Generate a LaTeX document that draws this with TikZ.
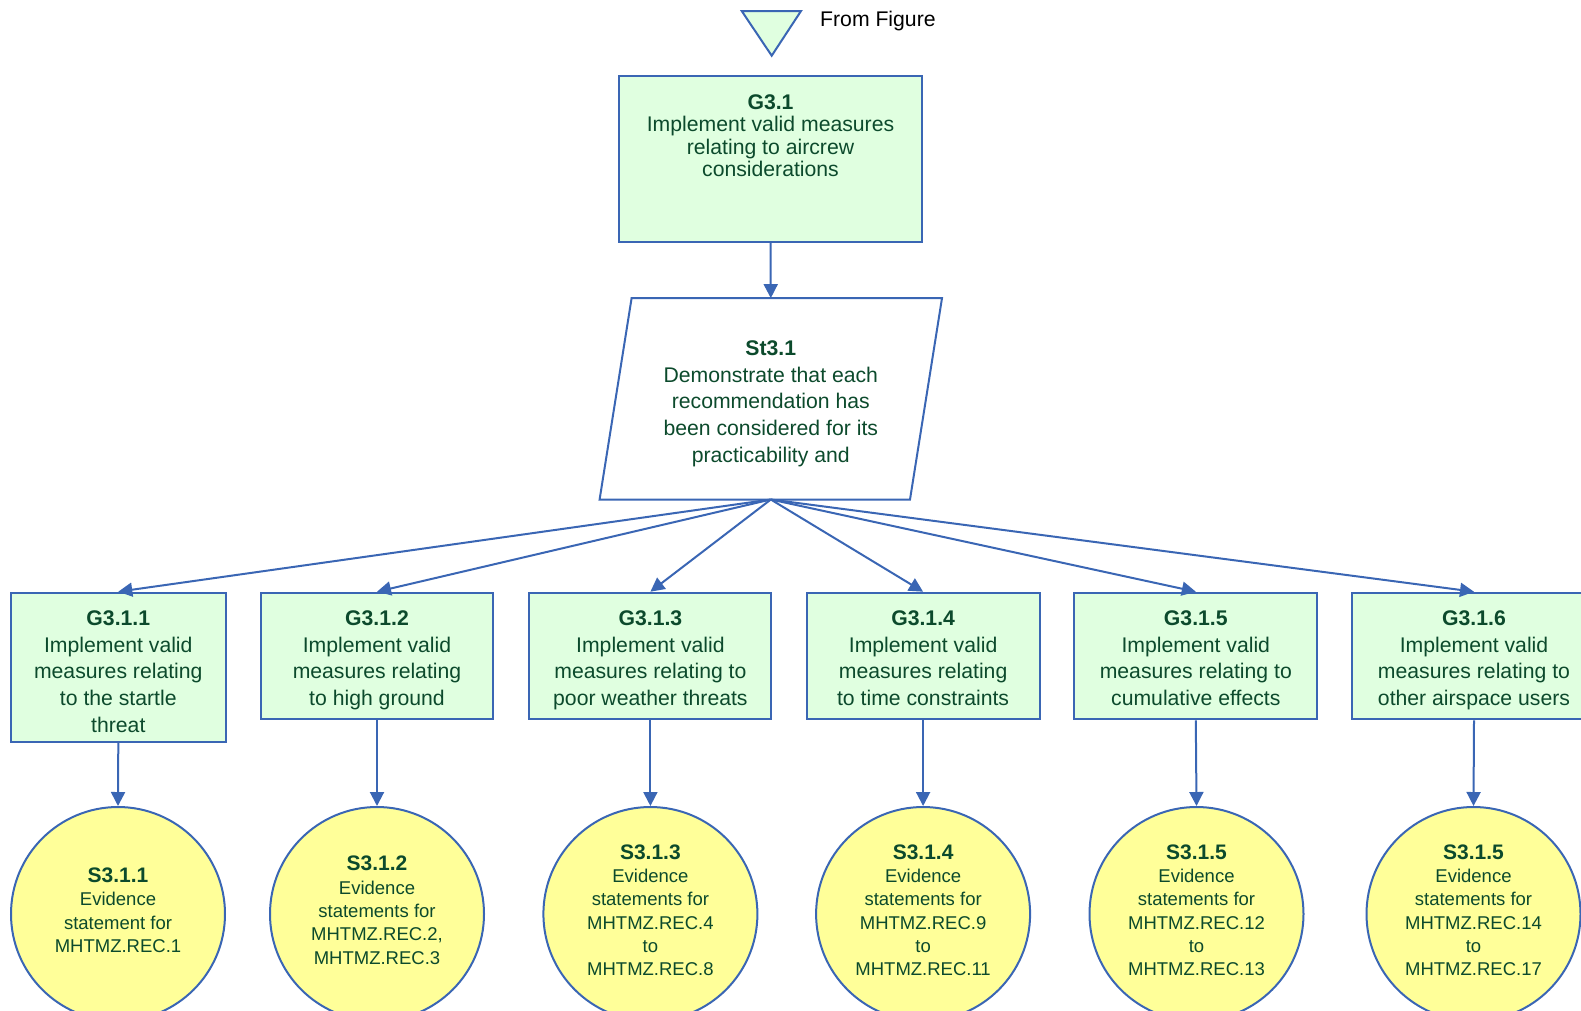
\documentclass[tikz,border=0pt]{standalone}
\usepackage{fontspec}
\setmainfont{Liberation Sans}
\usetikzlibrary{arrows.meta,calc}
\definecolor{gsnblue}{HTML}{3A66B4}
\definecolor{goalfill}{HTML}{E0FFE0}
\definecolor{evidfill}{HTML}{FFFF99}
\definecolor{gsntext}{HTML}{0C4A2C}
\newcommand\hd[1]{\textbf{#1}}
\newcommand\chd[1]{{\fontsize{21}{23.3}\selectfont\bfseries #1}}
\begin{document}
\begin{tikzpicture}[x=1pt,y=-1pt,
  goalbox/.style={draw=gsnblue, fill=goalfill, line width=2pt, inner sep=0pt},
  boxtext/.style={text=gsntext, align=center, inner sep=0pt, anchor=north,
    font=\fontsize{21.2}{26.6}\selectfont},
  evid/.style={circle, draw=gsnblue, fill=evidfill, line width=2pt,
    minimum size=214pt, inner sep=0pt, text=gsntext, align=center, text depth=7.5pt,
    font=\fontsize{18.5}{23.3}\selectfont},
  link/.style={draw=gsnblue, line width=2pt, -{Triangle[length=14pt,width=14pt]}}]
\useasboundingbox (0,0) rectangle (1581,1010);

% off-page connector
\draw[draw=gsnblue, fill=goalfill, line width=2pt] (741.7,11) -- (801,11) -- (771.7,55.7) -- cycle;
\node[anchor=base west, inner sep=0pt, font=\fontsize{21.2}{26.6}\selectfont] (from) at (820,26) {From Figure};

% top-level goal
\node[goalbox, minimum width=303pt, minimum height=166pt] (g31) at (770.5,159) {};
\node[boxtext, font=\fontsize{21.2}{22.6}\selectfont] (g31t) at ($(g31.north)+(0,19)$)
  {\hd{G3.1}\\Implement valid measures\\relating to aircrew\\considerations};

% strategy (parallelogram)
\node[minimum width=310pt, minimum height=201pt, inner sep=0pt] (st) at (770.8,398.8) {};
\draw[gsnblue, line width=2pt] ($(st.north west)+(16,0)$) -- ($(st.north east)+(16,0)$)
  -- ($(st.south east)+(-16,0)$) -- ($(st.south west)+(-16,0)$) -- cycle;
\node[boxtext] (stt) at (770.8,340.7)
  {\hd{St3.1}\\Demonstrate that each\\recommendation has\\been considered for its\\practicability and};

% sub-goals
\node[goalbox, minimum width=214.7pt, minimum height=149.3pt] (g1) at (118.3,667.3) {};
\node[goalbox, minimum width=232.6pt, minimum height=126.6pt] (g2) at (377,656) {};
\node[goalbox, minimum width=242pt, minimum height=126.6pt] (g3) at (650.4,656) {};
\node[goalbox, minimum width=233pt, minimum height=126.6pt] (g4) at (923.1,656) {};
\node[goalbox, minimum width=243pt, minimum height=126.6pt] (g5) at (1195.8,656) {};
\node[goalbox, minimum width=243.5pt, minimum height=126.6pt] (g6) at (1474,656) {};

\node[boxtext] (g1t) at ($(g1.north)+(0,19)$) {\hd{G3.1.1}\\Implement valid\\measures relating\\to the startle\\threat};
\node[boxtext] (g2t) at ($(g2.north)+(0,19)$) {\hd{G3.1.2}\\Implement valid\\measures relating\\to high ground};
\node[boxtext] (g3t) at ($(g3.north)+(0,19)$) {\hd{G3.1.3}\\Implement valid\\measures relating to\\poor weather threats};
\node[boxtext] (g4t) at ($(g4.north)+(0,19)$) {\hd{G3.1.4}\\Implement valid\\measures relating\\to time constraints};
\node[boxtext] (g5t) at ($(g5.north)+(0,19)$) {\hd{G3.1.5}\\Implement valid\\measures relating to\\cumulative effects};
\node[boxtext] (g6t) at ($(g6.north)+(0,19)$) {\hd{G3.1.6}\\Implement valid\\measures relating to\\other airspace users};

% evidence solutions
\node[evid] (s1) at (118,914) {\chd{S3.1.1}\\Evidence\\statement for\\MHTMZ.REC.1};
\node[evid] (s2) at (377,914) {\chd{S3.1.2}\\Evidence\\statements for\\MHTMZ.REC.2,\\MHTMZ.REC.3};
\node[evid] (s3) at (650.4,914) {\chd{S3.1.3}\\Evidence\\statements for\\MHTMZ.REC.4\\to\\MHTMZ.REC.8};
\node[evid] (s4) at (923.1,914) {\chd{S3.1.4}\\Evidence\\statements for\\MHTMZ.REC.9\\to\\MHTMZ.REC.11};
\node[evid] (s5) at (1196.5,914) {\chd{S3.1.5}\\Evidence\\statements for\\MHTMZ.REC.12\\to\\MHTMZ.REC.13};
\node[evid] (s6) at (1473.5,914) {\chd{S3.1.5}\\Evidence\\statements for\\MHTMZ.REC.14\\to\\MHTMZ.REC.17};

% connectors
\draw[link] (g31.south) -- (st.north);
\foreach \i in {1,...,6} {
  \draw[link] (st.south) -- (g\i.north);
  \draw[link] (g\i.south) -- (s\i.north);
}
\end{tikzpicture}
\end{document}
